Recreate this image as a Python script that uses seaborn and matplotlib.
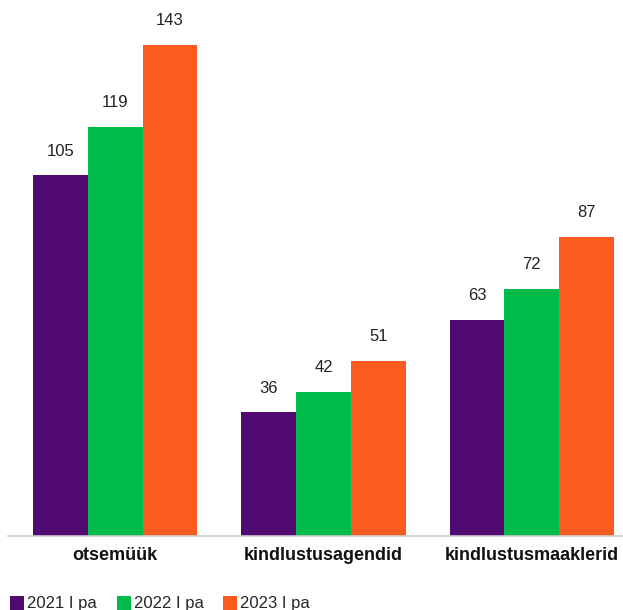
import pandas as pd
import matplotlib.pyplot as plt
import seaborn as sns
from matplotlib.lines import Line2D

categories = ["otsemüük", "kindlustusagendid", "kindlustusmaaklerid"]
years = ["2021 I pa", "2022 I pa", "2023 I pa"]
values_2021 = [105, 36, 63]
values_2022 = [119, 42, 72]
values_2023 = [143, 51, 87]
colors = ["#520A73", "#00BA4A", "#FC5B1F"]

rows = []
for year, vals in zip(years, [values_2021, values_2022, values_2023]):
    for cat, v in zip(categories, vals):
        rows.append({"kanal": cat, "aasta": year, "vaartus": v})
df = pd.DataFrame(rows)

sns.set_theme(style="white")
plt.rcParams["font.family"] = ["Liberation Sans", "DejaVu Sans"]

fig = plt.figure(figsize=(6.23, 6.10), dpi=100)
ax = fig.add_axes([11 / 623, 74 / 610, 625 / 623, 536 / 610])

sns.barplot(data=df, x="kanal", y="vaartus", hue="aasta", palette=colors,
            saturation=1, width=0.79, linewidth=0, ax=ax, legend=False)

for cont in ax.containers:
    ax.bar_label(cont, padding=12, fontsize=12, color="#222222")

ax.set_ylim(0, 156)
ax.set_xlim(-0.5, 2.5)
ax.set_xlabel("")
ax.set_ylabel("")
ax.set_yticks([])
ax.tick_params(axis="x", length=0, pad=8)
for lab in ax.get_xticklabels():
    lab.set_fontweight("bold")
    lab.set_fontsize(13)
    lab.set_color("#111111")
for side in ["top", "right", "left"]:
    ax.spines[side].set_visible(False)
ax.spines["bottom"].set_color("#cccccc")
ax.spines["bottom"].set_linewidth(1.2)
ax.spines["bottom"].set_bounds(-0.515, 2.5)

handles = [Line2D([0], [0], marker="s", linestyle="", markersize=10,
                  markerfacecolor=c, markeredgewidth=0) for c in colors]
fig.legend(handles, years, loc="lower left", bbox_to_anchor=(-0.01, -0.027),
           ncol=3, frameon=False, fontsize=12, handletextpad=0.1,
           columnspacing=1.1, handlelength=1.0)

fig.savefig("out.png", dpi=100)
